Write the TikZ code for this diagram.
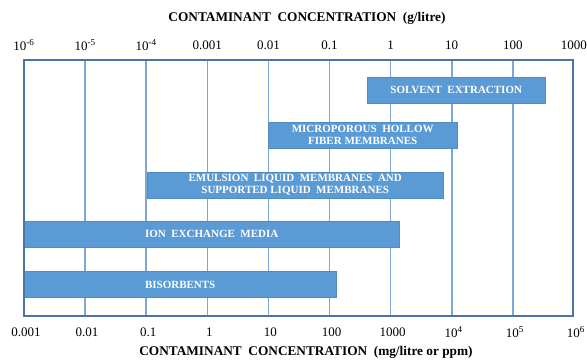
\documentclass[tikz,border=0pt]{standalone}
\usepackage{fontspec}
\setmainfont{Liberation Serif}
\usetikzlibrary{positioning}
\definecolor{barblue}{HTML}{5B9BD5}
\definecolor{gridblue}{HTML}{7EA6D8}
\definecolor{frameblue}{HTML}{4A74A6}

\begin{document}
\begin{tikzpicture}[x=1pt, y=-1pt,
bar/.style   = {fill=barblue, draw=barblue!90!black, line width=0.4pt,
                text=white, align=center, anchor=west, inner sep=0pt,
                minimum height=26pt,
                font=\bfseries\fontsize{11}{12}\selectfont},
tick/.style  = {inner sep=0pt, font=\fontsize{13}{14}\selectfont},
title/.style = {inner sep=0pt, font=\bfseries\fontsize{13.3}{15}\selectfont}
                    ]
\useasboundingbox (0,0) rectangle (587,360);

% decade lines
\foreach \i in {1,...,8}
  \draw[gridblue, line width=1.6pt] (24+61.1*\i,60) -- (24+61.1*\i,316);

% g/litre scale
\foreach \lab [count=\i from 0] in {10\textsuperscript{-6},10\textsuperscript{-5},
        10\textsuperscript{-4},0.001,0.01,0.1,1,10,100,1000}
  \node[tick] (top\i) at (24+61.1*\i,45) {\lab};
\node[title] (toptitle) at (307,18) {CONTAMINANT\ \ CONCENTRATION\ \ (g/litre)};

% mg/litre scale
\foreach \lab [count=\i from 0] in {0.001,0.01,0.1,1,10,100,1000,
        10\textsuperscript{4},10\textsuperscript{5},10\textsuperscript{6}}
  \node[tick] (bot\i) at (26+61.1*\i,332) {\lab};
\node[title] (bottitle) at (306,352) {CONTAMINANT\ \ CONCENTRATION\ \ (mg/litre or ppm)};

% methods
\node[bar, minimum width=178pt] (solvent)  at (367,90)  {SOLVENT\ \ EXTRACTION};
\node[bar, minimum width=189pt] (hollow)   at (268,135) {MICROPOROUS\ \ HOLLOW\\ FIBER MEMBRANES};
\node[bar, minimum width=296pt] (emulsion) at (147,185) {EMULSION\ \ LIQUID\ \ MEMBRANES\ \ AND\\ SUPPORTED LIQUID\ \ MEMBRANES};
\node[bar, minimum width=375pt] (ionex)    at (24,234)  {ION\ \ EXCHANGE\ \ MEDIA};
\node[bar, minimum width=312pt] (bisorb)   at (24,284.5) {BISORBENTS};

\draw[frameblue, line width=1.5pt] (24,60) rectangle (573,316);
\end{tikzpicture}
\end{document}
